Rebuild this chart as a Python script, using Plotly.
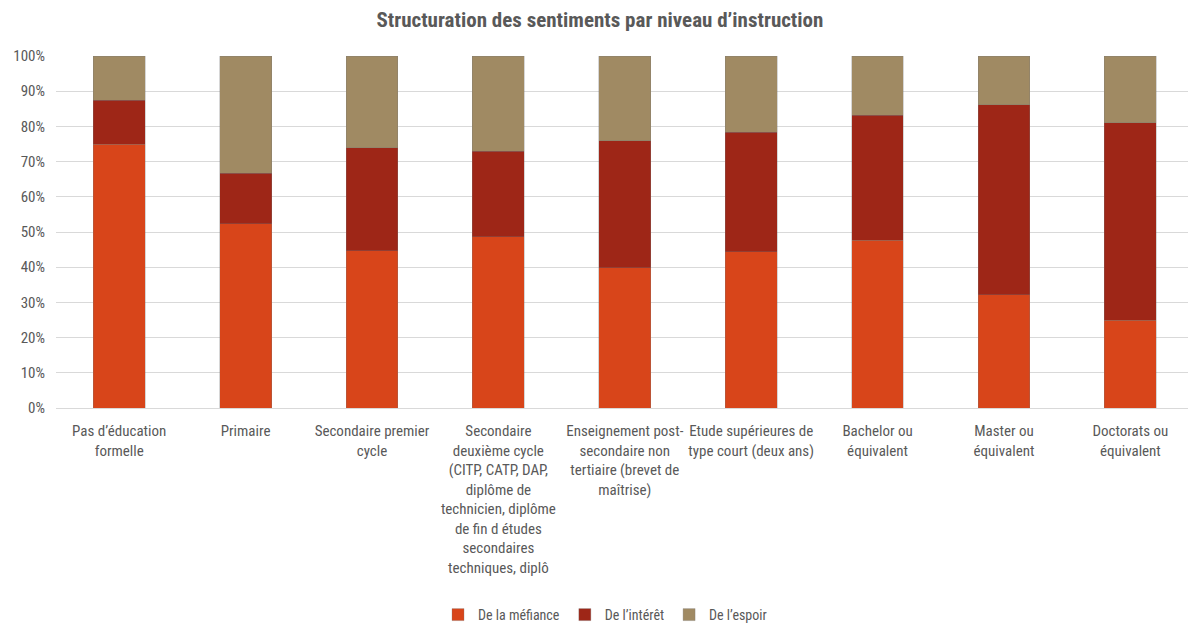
import plotly.graph_objects as go

categories = [
    "Pas d’éducation<br>formelle",
    "Primaire",
    "Secondaire premier<br>cycle",
    "Secondaire<br>deuxième cycle<br>(CITP, CATP, DAP,<br>diplôme de<br>technicien, diplôme<br>de fin d études<br>secondaires<br>techniques, diplô",
    "Enseignement post-<br>secondaire non<br>tertiaire (brevet de<br>maîtrise)",
    "Etude supérieures de<br>type court (deux ans)",
    "Bachelor ou<br>équivalent",
    "Master ou<br>équivalent",
    "Doctorats ou<br>équivalent",
]

mefiance = [75.0, 52.4, 44.7, 48.7, 39.8, 44.4, 47.6, 32.2, 24.9]
interet = [12.5, 14.3, 29.3, 24.2, 36.1, 34.0, 35.5, 53.9, 56.1]
espoir = [12.5, 33.3, 26.0, 27.1, 24.1, 21.6, 16.9, 13.9, 19.0]

series_names = ["De la méfiance", "De l’intérêt", "De l’espoir"]
series_colors = ["#D8451A", "#9E2617", "#A08A63"]

FONT = "Liberation Sans Narrow, Roboto Condensed, Lato, sans-serif"
GREY = "#595959"

fig = go.Figure()
for name, vals, col in zip(series_names, [mefiance, interet, espoir], series_colors):
    fig.add_trace(go.Bar(
        x=list(range(len(categories))), y=vals, name=name,
        marker=dict(color=col, line=dict(width=0.6, color="rgba(120,120,120,0.5)")),
        hoverinfo="skip",
    ))

fig.update_layout(
    width=1188, height=625,
    barmode="stack", bargap=0.59,
    paper_bgcolor="white", plot_bgcolor="white",
    margin=dict(l=56, r=0, t=56, b=217),
    title=dict(text="<b>Structuration des sentiments par niveau d’instruction</b>",
               x=0.505, xanchor="center", y=0.968, yanchor="middle",
               font=dict(family=FONT, size=21, color=GREY)),
    font=dict(family=FONT, color=GREY),
    legend=dict(orientation="h", x=0.485, xanchor="center",
                yref="container", y=0.016, yanchor="middle",
                font=dict(family=FONT, size=14, color=GREY), itemwidth=30,
                traceorder="normal"),
    xaxis=dict(tickmode="array", tickvals=list(range(len(categories))), ticktext=categories,
               range=[-0.5, 8.456], tickangle=0, showgrid=False, zeroline=False,
               showline=False, ticks="", ticklabelstandoff=12, automargin=False,
               tickfont=dict(family=FONT, size=15, color=GREY),
               fixedrange=True),
    yaxis=dict(range=[0, 100], tickvals=[0, 10, 20, 30, 40, 50, 60, 70, 80, 90, 100],
               ticktext=["0%", "10%", "20%", "30%", "40%", "50%", "60%", "70%", "80%", "90%", "100%"],
               showgrid=True, gridcolor="#D9D9D9", gridwidth=1, zeroline=True,
               zerolinecolor="#D9D9D9", zerolinewidth=1, ticks="", ticklabelstandoff=10,
               automargin=False,
               tickfont=dict(family=FONT, size=15, color=GREY), fixedrange=True),
)

fig.write_html(
    "out.html",
    config={"displayModeBar": False},
    post_script="document.body.style.margin='0';document.body.style.overflow='hidden';",
)
